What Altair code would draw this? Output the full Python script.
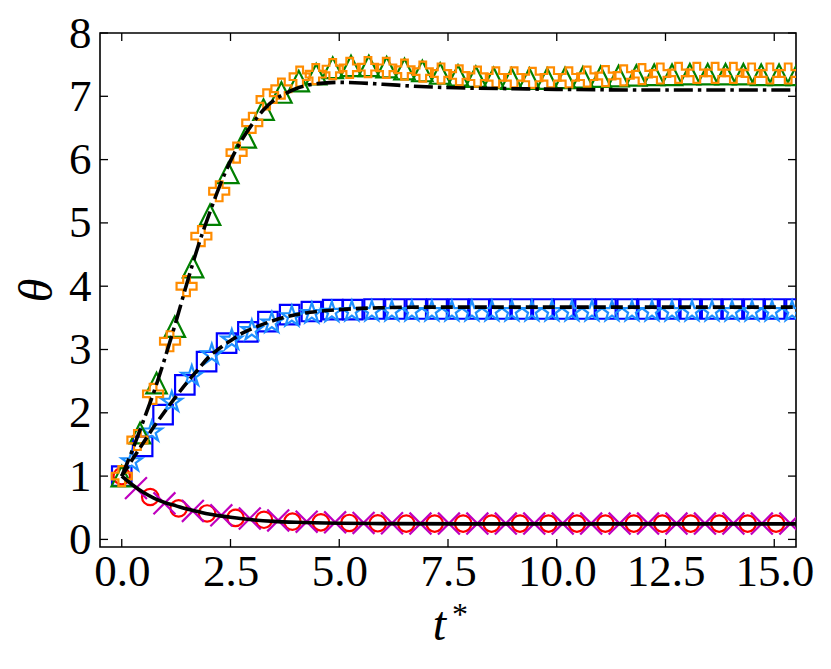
import math
import altair as alt
import pandas as pd

# ---------------- data ----------------
# high case: dash-dot reference curve
t_dd = [0, 0.25, 0.5, 0.75, 1.0, 1.25, 1.5, 1.75, 2.0, 2.25, 2.5, 2.75, 3.0, 3.25, 3.5, 3.75,
        4.0, 4.5, 5.0, 5.5, 6.0, 7.0, 8.0, 9.0, 10.0, 12.0, 14.0, 15.5]
v_dd = [1.0, 1.42, 1.88, 2.35, 2.88, 3.45, 4.05, 4.62, 5.12, 5.58, 5.98, 6.30, 6.56, 6.78, 6.94, 7.04,
        7.12, 7.20, 7.22, 7.21, 7.19, 7.15, 7.13, 7.12, 7.11, 7.10, 7.10, 7.10]

# high case: orange crosses
t_cross = [0, 0.36, 0.72, 1.11, 1.49, 1.83, 2.24, 2.64, 3.0, 3.33, 3.67, 4.09, 4.46, 4.85, 5.24,
           5.66, 6.08, 6.50, 6.92, 7.34, 7.76, 8.18, 8.60, 9.02, 9.44, 9.86, 10.28, 10.70, 11.12,
           11.54, 11.96, 12.38, 12.80, 13.22, 13.64, 14.06, 14.48, 14.90, 15.32]
v_cross = [1.0, 1.57, 2.30, 3.13, 4.00, 4.79, 5.50, 6.11, 6.58, 6.95, 7.12, 7.31, 7.35, 7.43, 7.45,
           7.46, 7.45, 7.42, 7.39, 7.36, 7.33, 7.31, 7.30, 7.30, 7.29, 7.30, 7.30, 7.31, 7.32,
           7.33, 7.35, 7.36, 7.37, 7.37, 7.37, 7.37, 7.36, 7.36, 7.36]

# high case: green triangles
t_tri = [0, 0.42, 0.80, 1.22, 1.64, 2.03, 2.45, 2.85, 3.26, 3.67, 4.07, 4.47, 4.85, 5.27,
         5.68, 6.09, 6.50, 6.91, 7.32, 7.73, 8.14, 8.55, 8.96, 9.37, 9.78, 10.19, 10.60, 11.01,
         11.42, 11.83, 12.24, 12.65, 13.06, 13.47, 13.88, 14.29, 14.70, 15.11, 15.52]
v_tri = [1.0, 1.68, 2.47, 3.36, 4.30, 5.13, 5.79, 6.35, 6.79, 7.06, 7.24, 7.35, 7.45, 7.48,
         7.48, 7.46, 7.43, 7.40, 7.36, 7.33, 7.31, 7.29, 7.28, 7.28, 7.28, 7.29, 7.30, 7.31,
         7.32, 7.33, 7.34, 7.34, 7.35, 7.35, 7.35, 7.35, 7.34, 7.34, 7.34]

# middle case: dashed reference curve
t_da = [0, 0.25, 0.5, 0.75, 1.0, 1.25, 1.5, 1.75, 2.0, 2.25, 2.5, 2.75, 3.0, 3.5, 4.0, 4.5,
        5.0, 5.5, 6.0, 7.0, 8.0, 10.0, 12.0, 15.5]
v_da = [1.0, 1.27, 1.53, 1.79, 2.03, 2.26, 2.48, 2.68, 2.88, 3.02, 3.14, 3.25, 3.33, 3.46, 3.55, 3.60,
        3.63, 3.65, 3.66, 3.67, 3.67, 3.67, 3.67, 3.67]

# middle case: blue squares
t_sq = [0, 0.48, 0.95, 1.45, 1.95, 2.41, 2.90, 3.36, 3.86, 4.36, 4.85, 5.31, 5.80, 6.28, 6.77,
        7.25, 7.74, 8.22, 8.71, 9.19, 9.68, 10.16, 10.65, 11.13, 11.62, 12.10, 12.59, 13.07,
        13.56, 14.04, 14.53, 15.01, 15.50]
v_sq = [1.0, 1.47, 1.97, 2.44, 2.81, 3.10, 3.28, 3.44, 3.55, 3.60, 3.63, 3.63, 3.64, 3.64, 3.64,
        3.64, 3.64, 3.64, 3.64, 3.64, 3.64, 3.64, 3.64, 3.64, 3.64, 3.64, 3.64, 3.64,
        3.64, 3.64, 3.64, 3.64, 3.64]

# middle case: light-blue stars
t_star = [0.23, 0.69, 1.15, 1.61, 2.07, 2.53, 2.99, 3.45, 3.91, 4.37, 4.83, 5.29, 5.75, 6.21,
          6.67, 7.13, 7.59, 8.05, 8.51, 8.97, 9.43, 9.89, 10.35, 10.81, 11.27, 11.73, 12.19,
          12.65, 13.11, 13.57, 14.03, 14.49, 14.95, 15.41]
v_star = [1.23, 1.70, 2.17, 2.58, 2.92, 3.15, 3.30, 3.42, 3.52, 3.57, 3.59, 3.60, 3.60, 3.60,
          3.60, 3.60, 3.60, 3.60, 3.60, 3.60, 3.60, 3.60, 3.60, 3.60, 3.60, 3.60, 3.60,
          3.60, 3.60, 3.60, 3.60, 3.60, 3.60, 3.60]

# low case: solid reference curve
t_so = [0, 0.25, 0.5, 0.75, 1.0, 1.25, 1.5, 1.75, 2.0, 2.5, 3.0, 3.5, 4.0, 5.0, 6.0, 8.0, 10.0, 15.5]
v_so = [1.0, 0.86, 0.74, 0.65, 0.58, 0.53, 0.48, 0.44, 0.40, 0.35, 0.31, 0.285, 0.27, 0.255, 0.25,
        0.245, 0.245, 0.245]

# low case: red circles
t_circ = [0, 0.654, 1.308, 1.962, 2.616, 3.27, 3.924, 4.578, 5.232, 5.886, 6.54, 7.194, 7.848,
          8.502, 9.156, 9.81, 10.464, 11.118, 11.772, 12.426, 13.08, 13.734, 14.388, 15.042]
v_circ = [1.0, 0.67, 0.49, 0.41, 0.34, 0.31, 0.28, 0.27, 0.26, 0.255, 0.25, 0.25, 0.25,
          0.25, 0.25, 0.25, 0.25, 0.25, 0.25, 0.25, 0.25, 0.25, 0.25, 0.25]

# low case: magenta x
t_x = [0.327, 0.981, 1.635, 2.289, 2.943, 3.597, 4.251, 4.905, 5.559, 6.213, 6.867, 7.521, 8.175,
       8.829, 9.483, 10.137, 10.791, 11.445, 12.099, 12.753, 13.407, 14.061, 14.715, 15.369]
v_x = [0.81, 0.57, 0.45, 0.38, 0.33, 0.30, 0.28, 0.27, 0.26, 0.255, 0.25, 0.25, 0.25,
       0.25, 0.25, 0.25, 0.25, 0.25, 0.25, 0.25, 0.25, 0.25, 0.25, 0.25]

x_ticks = [0.0, 2.5, 5.0, 7.5, 10.0, 12.5, 15.0]
y_ticks = [0, 1, 2, 3, 4, 5, 6, 7, 8]

# ---------------- styling ----------------
W, H = 696, 514
FONT = "Liberation Serif"
TICK_LEN = 8

xscale = alt.Scale(domain=[-0.5, 15.5], nice=False, zero=False)
yscale = alt.Scale(domain=[-0.12, 8.0], nice=False, zero=False)

xaxis = alt.Axis(values=x_ticks, format=".1f", title="t", labelPadding=2,
                 labelFlush=False, labelOverlap=False,
                 titleX=W / 2 - 9, titleY=92, titleBaseline="alphabetic", titleAlign="center")
yaxis = alt.Axis(values=y_ticks, format="d", title="θ", labelPadding=9,
                 labelOverlap=False, labelFlush=False,
                 titleX=-49, titleY=H / 2, titleAngle=270, titleBaseline="alphabetic",
                 titleAlign="center")


def X(f="t"):
    return alt.X(f"{f}:Q", scale=xscale, axis=xaxis)


def Y(f="v"):
    return alt.Y(f"{f}:Q", scale=yscale, axis=yaxis)


def df(t, v):
    return pd.DataFrame({"t": t, "v": v})


def star_path(n=5, r_in=0.382):
    pts = []
    for i in range(2 * n):
        a = math.radians(-90 + 180.0 / n * i)
        r = 1.0 if i % 2 == 0 else r_in
        pts.append(f"{r * math.cos(a):.3f},{r * math.sin(a):.3f}")
    return "M" + "L".join(pts) + "Z"


PLUS = ("M-1,-0.333L-0.333,-0.333L-0.333,-1L0.333,-1L0.333,-0.333L1,-0.333L1,0.333"
        "L0.333,0.333L0.333,1L-0.333,1L-0.333,0.333L-1,0.333Z")
TRI = "M0,-1L-1,1L1,1Z"
XSHAPE = "M-1,-1L1,1M-1,1L1,-1"
STAR = star_path()


def pts(t, v, shape, color, size, sw=2.2):
    return alt.Chart(df(t, v)).mark_point(
        shape=shape, filled=False, color=color, size=size, strokeWidth=sw,
        opacity=1, clip=True
    ).encode(x=X(), y=Y())


def line(t, v, dash=None, width=3.6):
    kw = dict(color="black", strokeWidth=width, clip=True, interpolate="monotone")
    if dash:
        kw["strokeDash"] = dash
    return alt.Chart(df(t, v)).mark_line(**kw).encode(x=X(), y=Y())


squares = pts(t_sq, v_sq, "square", "#0000ff", 380)
stars = pts(t_star, v_star, STAR, "#1e90ff", 460)
circles = pts(t_circ, v_circ, "circle", "#ff0000", 270)
xs = pts(t_x, v_x, XSHAPE, "#bf00bf", 480)
tris = pts(t_tri, v_tri, TRI, "#008000", 420)
crosses = pts(t_cross, v_cross, PLUS, "#ff8c00", 400)

solid = line(t_so, v_so)
dashed = line(t_da, v_da, dash=[12, 5])
dashdot = line(t_dd, v_dd, dash=[19, 5, 3.5, 5])

xt = pd.DataFrame({"t": x_ticks})
yt = pd.DataFrame({"v": y_ticks})
tick_style = dict(color="black", strokeWidth=1.3)
xt_bot = alt.Chart(xt).mark_rule(**tick_style).encode(
    x=X(), y=alt.value(H), y2=alt.value(H - TICK_LEN))
xt_top = alt.Chart(xt).mark_rule(**tick_style).encode(
    x=X(), y=alt.value(0), y2=alt.value(TICK_LEN))
yt_left = alt.Chart(yt).mark_rule(**tick_style).encode(
    y=Y(), x=alt.value(0), x2=alt.value(TICK_LEN))
yt_right = alt.Chart(yt).mark_rule(**tick_style).encode(
    y=Y(), x=alt.value(W), x2=alt.value(W - TICK_LEN))

# superscript asterisk of the x-axis title t*
star_lbl = alt.Chart(pd.DataFrame({"s": ["*"]})).mark_text(
    font=FONT, fontSize=32, color="black", baseline="alphabetic", align="left"
).encode(text="s:N", x=alt.value(W / 2 + 4), y=alt.value(H + 78))

chart = alt.layer(
    squares, stars, circles, xs, tris, crosses,
    solid, dashed, dashdot,
    xt_bot, xt_top, yt_left, yt_right, star_lbl,
).properties(
    width=W, height=H,
    autosize=alt.AutoSizeParams(type="none"),
    padding={"left": 92, "top": 25, "right": 25, "bottom": 118},
    background="white",
).configure_view(
    stroke="black", strokeWidth=1.6
).configure_axis(
    grid=False, domain=False, ticks=False, tickSize=0,
    labelFont=FONT, labelFontSize=45, labelColor="black",
    titleFont=FONT, titleFontSize=48, titleFontStyle="italic", titleFontWeight="normal",
    titleColor="black",
)

chart.save("out.html", embed_options={"renderer": "svg", "actions": False})
